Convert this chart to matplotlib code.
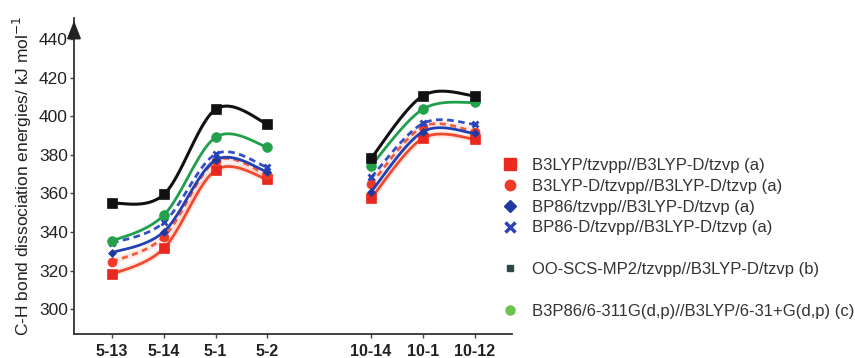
import numpy as np
import matplotlib
matplotlib.use('agg')
import matplotlib.pyplot as plt
from matplotlib.lines import Line2D

plt.rcParams['font.family'] = ['Liberation Sans', 'DejaVu Sans']

# --- data ---
categories = ['5-13', '5-14', '5-1', '5-2', '10-14', '10-1', '10-12']
positions = [1, 2, 3, 4, 6, 7, 8]

b3lyp = [318.1, 331.6, 372.1, 367.3, 357.5, 388.6, 388.2]
b3lyp_d = [324.6, 337.6, 376.8, 369.5, 364.9, 394.6, 392.0]
bp86 = [329.3, 340.2, 377.3, 371.2, 360.9, 392.0, 391.1]
bp86_d = [334.3, 345.0, 380.4, 373.5, 368.3, 396.3, 395.8]
oo_scs_mp2 = [354.9, 359.5, 403.6, 396.0, 378.2, 410.6, 410.6]
b3p86 = [335.3, 348.8, 389.1, 384.0, 374.4, 403.7, 407.2]

legend_labels = ['B3LYP/tzvpp//B3LYP-D/tzvp (a)',
                 'B3LYP-D/tzvpp//B3LYP-D/tzvp (a)',
                 'BP86/tzvpp//B3LYP-D/tzvp (a)',
                 'BP86-D/tzvpp//B3LYP-D/tzvp (a)',
                 'OO-SCS-MP2/tzvpp//B3LYP-D/tzvp (b)',
                 'B3P86/6-311G(d,p)//B3LYP/6-31+G(d,p) (c)']


def smooth(xs, ys, n=25):
    """Catmull-Rom curve through the points (like a smoothed line)."""
    p = np.column_stack([xs, ys]).astype(float)
    p = np.vstack([p[0], p, p[-1]])
    t = np.linspace(0, 1, n)[:, None]
    segs = []
    for i in range(1, len(p) - 2):
        p0, p1, p2, p3 = p[i - 1], p[i], p[i + 1], p[i + 2]
        seg = 0.5 * (2 * p1 + (-p0 + p2) * t
                     + (2 * p0 - 5 * p1 + 4 * p2 - p3) * t ** 2
                     + (-p0 + 3 * p1 - 3 * p2 + p3) * t ** 3)
        segs.append(seg)
    return np.vstack(segs)


fig = plt.figure(figsize=(8.55, 3.58), dpi=100)
ax = fig.add_axes([74 / 855, 1 - 334 / 358, (512 - 74) / 855, (334 - 18) / 358])

series = [
    (b3lyp, '#f04a2e', '-', 's', 6.5, '#e8281e'),
    (b3lyp_d, '#f25c40', (0, (2.2, 1.6)), 'o', 6.5, '#f03a26'),
    (bp86, '#2140b4', '-', 'D', 4.5, '#1f3a9e'),
    (bp86_d, '#3350c8', (0, (2.4, 1.6)), 'x', 5, '#2a44b8'),
    (b3p86, '#1f9e4c', '-', 'o', 7, '#22a04a'),
    (oo_scs_mp2, '#111111', '-', 's', 6.5, '#111111'),
]

groups = [slice(0, 4), slice(4, 7)]
for vals, col, ls, mk, ms, mcol in series:
    for g in groups:
        xs = positions[g]
        ys = vals[g]
        c = smooth(xs, ys)
        if col.startswith('#f'):
            ax.plot(c[:, 0], c[:, 1], color=col, lw=5, alpha=0.12,
                    solid_capstyle='round')
        ax.plot(c[:, 0], c[:, 1], color=col, lw=2 if col != '#111111' else 2.2,
                linestyle=ls)
        ax.plot(xs, ys, linestyle='none', marker=mk, markersize=ms,
                color=mcol, mew=2 if mk == 'x' else 0.5)

ax.set_xlim(0.266, 8.72)
ax.set_ylim(287.2, 450.9)
ax.set_yticks(np.arange(300, 441, 20))
ax.set_xticks(positions)
ax.set_xticklabels(categories, fontweight='bold', fontsize=11.5, color='#222222')
ax.tick_params(axis='y', labelsize=12.5, labelcolor='#222222', length=3,
               width=1, color='#444444', pad=1.5)
ax.tick_params(axis='x', length=3, width=1, color='#444444', pad=4)

for s in ['top', 'right']:
    ax.spines[s].set_visible(False)
for s in ['left', 'bottom']:
    ax.spines[s].set_color('#333333')
    ax.spines[s].set_linewidth(1.3)

# arrow head on top of the y axis
ax.annotate('', xy=(0, 1.0), xytext=(0, 0.95), xycoords='axes fraction',
            arrowprops=dict(arrowstyle='-|>,head_length=1.1,head_width=0.43',
                            color='#222222', lw=1.3, mutation_scale=10),
            annotation_clip=False)

fig.text(22 / 855, 1 - 176 / 358, 'C-H bond dissociation energies/ kJ mol$^{-1}$',
         rotation=90, ha='center', va='center', fontsize=12.5, color='#222222')

blank = Line2D([], [], linestyle='none')
handles = [
    Line2D([], [], linestyle='none', marker='s', markersize=8, color='#ee2a1e'),
    Line2D([], [], linestyle='none', marker='o', markersize=7.5, color='#f03a26'),
    Line2D([], [], linestyle='none', marker='D', markersize=6.5, color='#1f3a9e'),
    Line2D([], [], linestyle='none', marker='x', markersize=7, mew=2.5, color='#2a44b8'),
    blank,
    Line2D([], [], linestyle='none', marker='s', markersize=5, color='#2e4848'),
    blank,
    Line2D([], [], linestyle='none', marker='o', markersize=6.5, color='#6cc24a'),
]
labels = legend_labels[:4] + [' '] + [legend_labels[4]] + [' '] + [legend_labels[5]]
fig.legend(handles, labels, loc='upper left', bbox_to_anchor=(503 / 855, 1 - 158 / 358),
           frameon=False, fontsize=12, handlelength=0.8, handletextpad=0.94,
           labelspacing=0.35, borderpad=0, borderaxespad=0, labelcolor='#333333')

fig.savefig('out.png', dpi=100)
